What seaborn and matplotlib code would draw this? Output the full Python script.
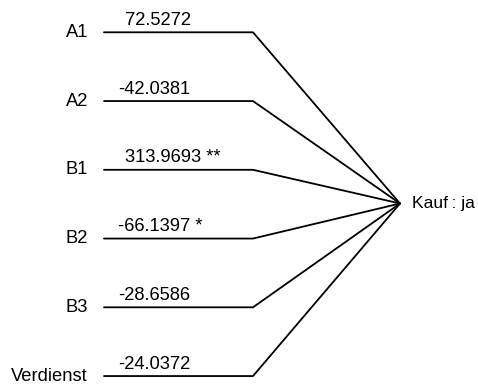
import numpy as np
import pandas as pd
import matplotlib
matplotlib.use("Agg")
import matplotlib.pyplot as plt
import seaborn as sns

# Predictors, their coefficients and significance stars
predictors = ["A1", "A2", "B1", "B2", "B3", "Verdienst"]
coefficients = [72.5272, -42.0381, 313.9693, -66.1397, -28.6586, -24.0372]
stars = ["", "", "**", "*", "", ""]
outcome = "Kauf\u2009: ja"

sns.set_theme(style="white")
plt.rcParams["font.family"] = ["Liberation Sans", "DejaVu Sans"]

W, H = 478, 385
fig = plt.figure(figsize=(W / 100, H / 100), dpi=100)
ax = fig.add_axes([0, 0, 1, 1])
ax.set_xlim(0, W)
ax.set_ylim(H, 0)
ax.axis("off")

# Layout of the diagram (pixel units)
top, step = 32.3, 68.75
x_start, x_bend = 104, 253
hub = (400, 203.5)

rows = []
for i, name in enumerate(predictors):
    y = top + i * step
    rows += [
        {"edge": name, "order": 0, "x": x_start, "y": y},
        {"edge": name, "order": 1, "x": x_bend, "y": y},
        {"edge": name, "order": 2, "x": hub[0], "y": hub[1]},
    ]
edges = pd.DataFrame(rows)

sns.lineplot(data=edges, x="x", y="y", units="edge", estimator=None,
             sort=False, color="black", linewidth=1.3, ax=ax, legend=False)

fs = 13.2
for i, (name, coef, st) in enumerate(zip(predictors, coefficients, stars)):
    y = top + i * step
    ax.text(88, y, name, ha="right", va="center", fontsize=fs, color="black")
    label = f"{coef:.4f}" + (f" {st}" if st else "")
    x_lab = 118 if coef < 0 else 125
    ax.text(x_lab, y - 7.5, label, ha="left", va="baseline", fontsize=fs,
            color="black")

ax.text(412, hub[1], outcome, ha="left", va="center", fontsize=12.6,
        color="black")

fig.savefig("out.png", dpi=100)
